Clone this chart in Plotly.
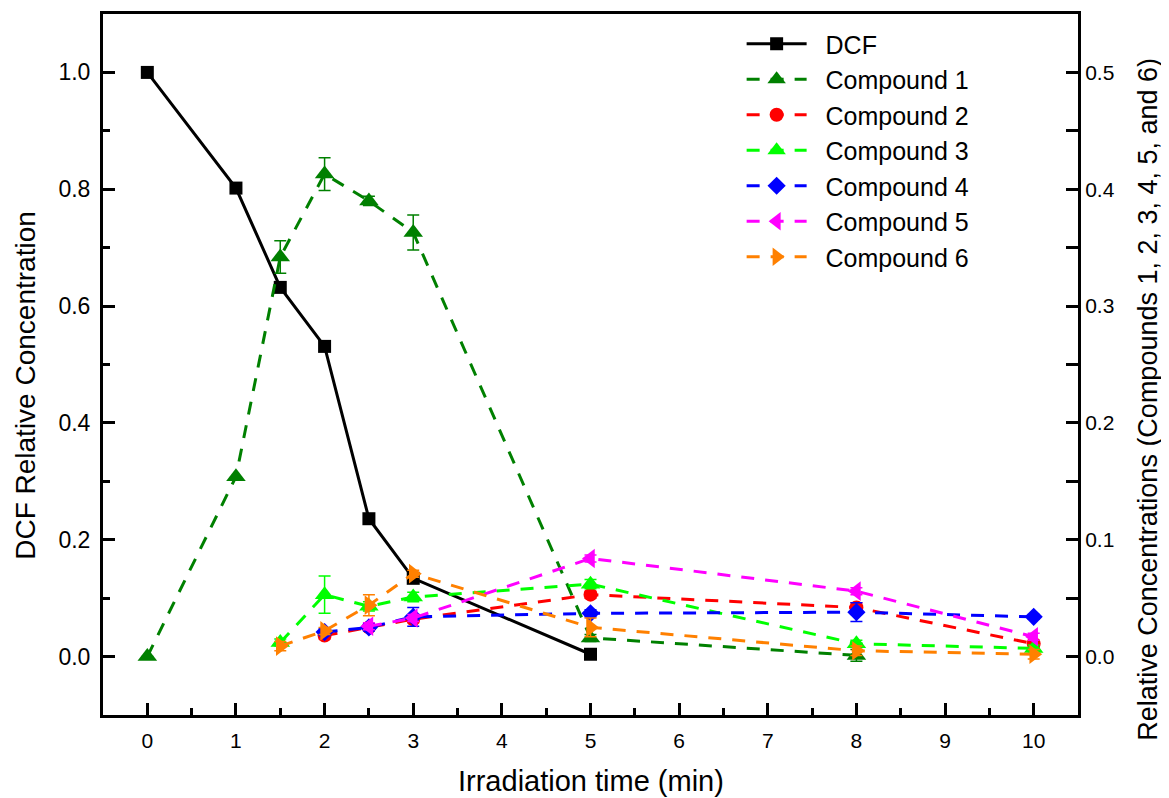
import plotly.graph_objects as go

# irradiation times (min)
t_dcf = [0, 1, 1.5, 2, 2.5, 3, 5]
dcf = [1.0, 0.802, 0.632, 0.531, 0.236, 0.134, 0.004]

t_c1 = [0, 1, 1.5, 2, 2.5, 3, 5, 8]
c1 = [0.0, 0.154, 0.342, 0.413, 0.390, 0.363, 0.016, 0.001]
c1_err = [0, 0, 0.014, 0.014, 0.004, 0.015, 0.003, 0.005]

t_c2 = [2, 2.5, 3, 5, 8, 10]
c2 = [0.018, 0.025, 0.032, 0.053, 0.042, 0.011]
c2_err = [0.003, 0.002, 0.003, 0.003, 0.004, 0.003]

t_c3 = [1.5, 2, 2.5, 3, 5, 8, 10]
c3 = [0.012, 0.053, 0.043, 0.051, 0.062, 0.011, 0.007]
c3_err = [0.003, 0.016, 0.004, 0.004, 0.004, 0.003, 0.003]

t_c4 = [2, 2.5, 3, 5, 8, 10]
c4 = [0.021, 0.025, 0.034, 0.037, 0.038, 0.034]
c4_err = [0.003, 0.003, 0.008, 0.003, 0.008, 0.002]

t_c5 = [2.5, 3, 5, 8, 10]
c5 = [0.026, 0.033, 0.084, 0.056, 0.017]
c5_err = [0.003, 0.003, 0.003, 0.003, 0.003]

t_c6 = [1.5, 2, 2.5, 3, 5, 8, 10]
c6 = [0.009, 0.022, 0.044, 0.071, 0.025, 0.005, 0.002]
c6_err = [0.004, 0.003, 0.009, 0.003, 0.008, 0.004, 0.004]

FONT = "Liberation Sans, Arial, sans-serif"
DASH = "13px,11px"
PAD = "\u00a0\u00a0"  # small gap between legend symbol and label

compounds = [
    ("Compound 1", t_c1, c1, c1_err, "#008000", "triangle-up", 17),
    ("Compound 2", t_c2, c2, c2_err, "#FF0000", "circle", 14),
    ("Compound 3", t_c3, c3, c3_err, "#00FF00", "triangle-up", 17),
    ("Compound 4", t_c4, c4, c4_err, "#0000FF", "diamond", 14),
    ("Compound 5", t_c5, c5, c5_err, "#FF00FF", "triangle-left", 17),
    ("Compound 6", t_c6, c6, c6_err, "#FF8000", "triangle-right", 17),
]

fig = go.Figure()

fig.add_trace(go.Scatter(
    x=t_dcf, y=dcf, name=PAD + "DCF", mode="lines+markers",
    line=dict(color="black", width=3),
    marker=dict(symbol="square", size=13, color="black"),
))

for name, t, v, err, col, sym, sz in compounds:
    fig.add_trace(go.Scatter(
        x=t, y=v, name=PAD + name, mode="lines+markers", yaxis="y2",
        line=dict(color=col, width=3, dash=DASH),
        marker=dict(symbol=sym, size=sz, color=col),
        error_y=dict(type="data", array=err, color=col, thickness=1.5, width=6),
    ))

axis_common = dict(
    showline=True, linecolor="black", linewidth=3,
    ticks="inside", ticklen=12, tickwidth=2.5, tickcolor="black",
    showgrid=False, zeroline=False, automargin=False,
    tickfont=dict(family=FONT, size=21, color="black"),
)

# page body has an 8px margin, so the figure is sized to fit inside it
fig.update_layout(
    width=1161, height=790,
    margin=dict(l=95, r=91, t=6, b=83),
    paper_bgcolor="white", plot_bgcolor="white",
    font=dict(family=FONT, color="black"),
    showlegend=True,
    legend=dict(
        x=0.655, y=0.99, xanchor="left", yanchor="top",
        bgcolor="rgba(0,0,0,0)", borderwidth=0,
        font=dict(family=FONT, size=25, color="black"),
        tracegroupgap=0, itemwidth=60,
    ),
    xaxis=dict(
        axis_common, range=[-0.5, 10.5], dtick=1, tick0=0, mirror=True,
        ticklabelstandoff=5,
        minor=dict(ticks="inside", ticklen=7, dtick=0.5, tickwidth=2.5, tickcolor="black"),
    ),
    yaxis=dict(
        axis_common, range=[-0.1, 1.1], dtick=0.2, tick0=0, tickformat=".1f",
        ticklabelstandoff=5, tickfont=dict(family=FONT, size=23, color="black"),
        minor=dict(ticks="inside", ticklen=7, dtick=0.1, tickwidth=2.5, tickcolor="black"),
    ),
    yaxis2=dict(
        axis_common, overlaying="y", side="right", range=[-0.05, 0.55],
        dtick=0.1, tick0=0, tickformat=".1f",
        minor=dict(ticks="inside", ticklen=12, dtick=0.05, tickwidth=2.5, tickcolor="black"),
    ),
    annotations=[
        dict(text="Irradiation time (min)", xref="paper", yref="paper",
             x=0.5, y=-0.094, xanchor="center", yanchor="middle", showarrow=False,
             font=dict(family=FONT, size=29)),
        dict(text="DCF Relative Concentration", xref="paper", yref="paper",
             x=-0.079, y=0.471, xanchor="center", yanchor="middle", showarrow=False,
             textangle=-90, font=dict(family=FONT, size=28)),
        dict(text="Relative Concentrations (Compounds 1, 2, 3, 4, 5, and 6)",
             xref="paper", yref="paper",
             x=1.071, y=0.45, xanchor="center", yanchor="middle", showarrow=False,
             textangle=-90, font=dict(family=FONT, size=27)),
    ],
)

fig.write_html("out.html")
